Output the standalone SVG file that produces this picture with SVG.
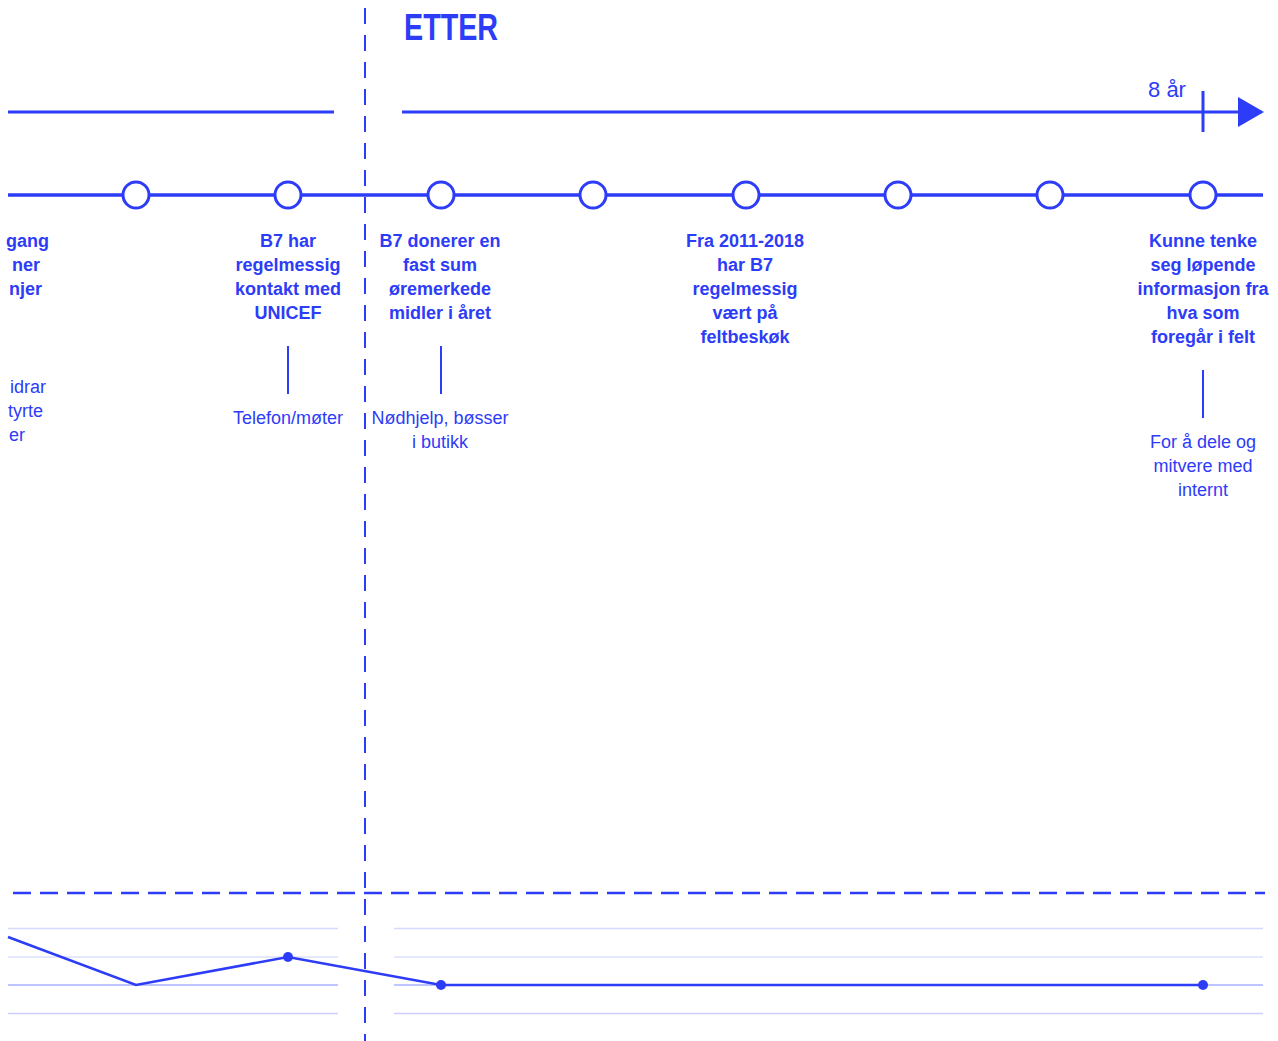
<svg xmlns="http://www.w3.org/2000/svg" width="1278" height="1041" viewBox="0 0 1278 1041">
<style>
.b{fill:#2d3cf6;font-family:"Liberation Sans",Arial,sans-serif;font-size:18px;font-weight:bold;text-anchor:middle}
.r{fill:#2d3cf6;font-family:"Liberation Sans",Arial,sans-serif;font-size:18px;text-anchor:middle}
.e{text-anchor:end}
.ln{stroke:#2d3cf6;fill:none}
.node{fill:#fff;stroke:#2d3cf6;stroke-width:3}
.g{stroke-width:1.5;fill:none}
</style>
<defs>
<marker id="arr" markerWidth="26" markerHeight="30" refX="0" refY="15" orient="auto" markerUnits="userSpaceOnUse">
<path d="M0,0 L26,15 L0,30 Z" fill="#2d3cf6"/>
</marker>
</defs>
<rect width="1278" height="1041" fill="#fff"/>
<text x="404" y="40" fill="#2d3cf6" font-family="Liberation Sans, Arial, sans-serif" font-weight="bold" font-size="37" textLength="94" lengthAdjust="spacingAndGlyphs">ETTER</text>
<g id="connectors">
<line class="ln" x1="365" y1="8" x2="365" y2="1041" stroke-width="2" stroke-dasharray="16,11"/>
<line class="ln" x1="13" y1="893" x2="1265" y2="893" stroke-width="2.5" stroke-dasharray="18,9"/>
<line class="ln" x1="8" y1="112" x2="334" y2="112" stroke-width="3"/>
<line class="ln" x1="402" y1="112" x2="1238" y2="112" stroke-width="3" marker-end="url(#arr)"/>
<line class="ln" x1="1203" y1="91" x2="1203" y2="132" stroke-width="3"/>
<line class="ln" x1="8" y1="195" x2="1263" y2="195" stroke-width="3.5"/>
<line class="ln" x1="288" y1="346" x2="288" y2="394" stroke-width="2"/>
<line class="ln" x1="441" y1="346" x2="441" y2="394" stroke-width="2"/>
<line class="ln" x1="1203" y1="370" x2="1203" y2="418" stroke-width="2"/>
<g class="g">
<line x1="8" y1="928.5" x2="338" y2="928.5" stroke="#d3d9ff"/>
<line x1="394" y1="928.5" x2="1263" y2="928.5" stroke="#d3d9ff"/>
<line x1="8" y1="957" x2="338" y2="957" stroke="#dde2ff"/>
<line x1="394" y1="957" x2="1263" y2="957" stroke="#dde2ff"/>
<line x1="8" y1="985" x2="338" y2="985" stroke="#a7b1ff"/>
<line x1="394" y1="985" x2="1263" y2="985" stroke="#a7b1ff"/>
<line x1="8" y1="1013.5" x2="338" y2="1013.5" stroke="#c9d0ff"/>
<line x1="394" y1="1013.5" x2="1263" y2="1013.5" stroke="#c9d0ff"/>
</g>
<polyline class="ln" stroke-width="2.5" points="8,937 136,985 288,957 441,985 1203,985"/>
<circle cx="288" cy="957" r="5" fill="#2d3cf6"/>
<circle cx="441" cy="985" r="5" fill="#2d3cf6"/>
<circle cx="1203" cy="985" r="5" fill="#2d3cf6"/>
</g>
<text class="r" x="1167" y="97" font-size="22" style="font-size:22px">8 år</text>
<g id="node-left">
<text class="b e" x="49" y="247" style="text-anchor:end">gang</text>
<text class="b e" x="40" y="271" style="text-anchor:end">ner</text>
<text class="b e" x="42" y="295" style="text-anchor:end">njer</text>
<text class="r e" x="46" y="393" style="text-anchor:end">idrar</text>
<text class="r e" x="43" y="417" style="text-anchor:end">tyrte</text>
<text class="r e" x="25" y="441" style="text-anchor:end">er</text>
</g>
<g id="node-1"><circle class="node" cx="136" cy="195" r="13"/></g>
<g id="node-2"><circle class="node" cx="288" cy="195" r="13"/>
<text class="b" x="288" y="247">B7 har</text>
<text class="b" x="288" y="271">regelmessig</text>
<text class="b" x="288" y="295">kontakt med</text>
<text class="b" x="288" y="319">UNICEF</text>
<text class="r" x="288" y="424">Telefon/møter</text>
</g>
<g id="node-3"><circle class="node" cx="441" cy="195" r="13"/>
<text class="b" x="440" y="247">B7 donerer en</text>
<text class="b" x="440" y="271">fast sum</text>
<text class="b" x="440" y="295">øremerkede</text>
<text class="b" x="440" y="319">midler i året</text>
<text class="r" x="440" y="424">Nødhjelp, bøsser</text>
<text class="r" x="440" y="448">i butikk</text>
</g>
<g id="node-4"><circle class="node" cx="593" cy="195" r="13"/></g>
<g id="node-5"><circle class="node" cx="746" cy="195" r="13"/>
<text class="b" x="745" y="247">Fra 2011-2018</text>
<text class="b" x="745" y="271">har B7</text>
<text class="b" x="745" y="295">regelmessig</text>
<text class="b" x="745" y="319">vært på</text>
<text class="b" x="745" y="343">feltbeskøk</text>
</g>
<g id="node-6"><circle class="node" cx="898" cy="195" r="13"/></g>
<g id="node-7"><circle class="node" cx="1050" cy="195" r="13"/></g>
<g id="node-8"><circle class="node" cx="1203" cy="195" r="13"/>
<text class="b" x="1203" y="247">Kunne tenke</text>
<text class="b" x="1203" y="271">seg løpende</text>
<text class="b" x="1203" y="295">informasjon fra</text>
<text class="b" x="1203" y="319">hva som</text>
<text class="b" x="1203" y="343">foregår i felt</text>
<text class="r" x="1203" y="448">For å dele og</text>
<text class="r" x="1203" y="472">mitvere med</text>
<text class="r" x="1203" y="496">internt</text>
</g>
</svg>
